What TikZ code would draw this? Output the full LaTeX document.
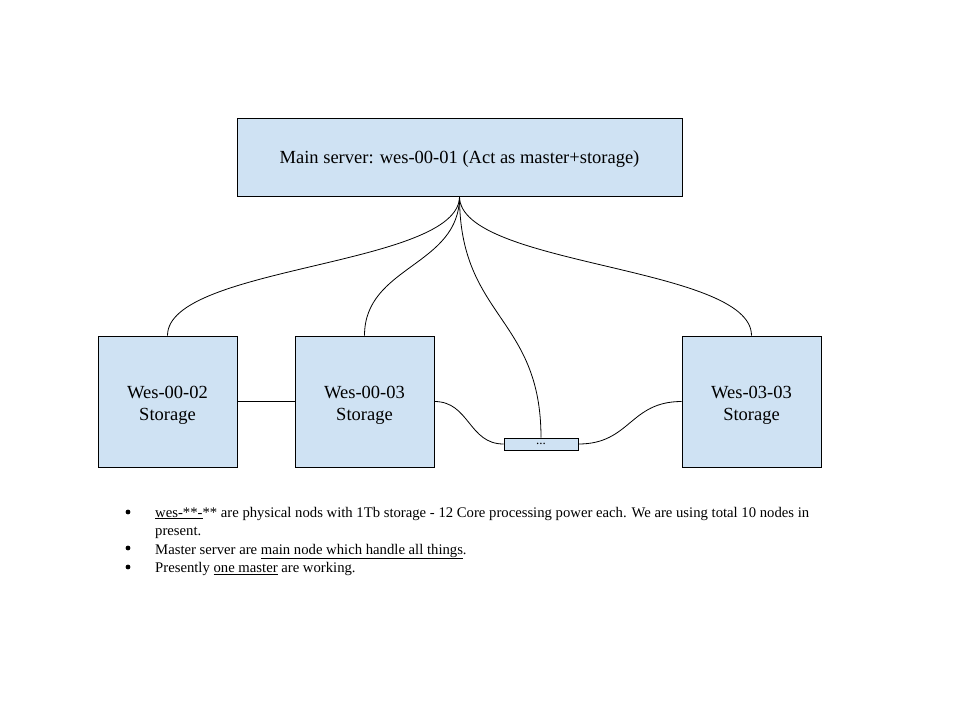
\documentclass[tikz,border=0pt]{standalone}
\usepackage{fontspec}
\setmainfont{Liberation Serif}
\definecolor{boxblue}{HTML}{CFE2F3}
\begin{document}
\begin{tikzpicture}[x=1pt,y=-1pt,
  srv/.style={draw=black,fill=boxblue,line width=0.9pt,inner sep=0pt},
  lbl/.style={align=center,inner sep=0pt,font=\fontsize{18.5}{22}\selectfont},
  link/.style={draw=black,line width=0.8pt},
  bul/.style={anchor=base west,inner sep=0pt,font=\fontsize{14.7}{17}\selectfont}]
\useasboundingbox (0,0) rectangle (960,720);
\node[srv,minimum width=445pt,minimum height=78pt] (main) at (459.5,157) {};
\node[lbl] (mainl) at (459.5,159) {Main server: wes-00-01 (Act as master+storage)};
\node[srv,minimum width=139pt,minimum height=131pt] (w1) at (167.5,401.5) {};
\node[srv,minimum width=139pt,minimum height=131pt] (w2) at (364.5,401.5) {};
\node[srv,minimum width=139pt,minimum height=131pt] (w3) at (751.5,401.5) {};
\node[lbl] (w1l) at (167.5,405.5) {Wes-00-02\\Storage};
\node[lbl] (w2l) at (364.5,405.5) {Wes-00-03\\Storage};
\node[lbl] (w3l) at (751.5,405.5) {Wes-03-03\\Storage};
\node[srv,minimum width=74pt,minimum height=12pt] (dots) at (541,444) {};
\draw[link] (main.south) .. controls +(0,70) and +(0,-70) .. (w1.north);
\draw[link] (main.south) .. controls +(0,70) and +(0,-70) .. (w2.north);
\draw[link] (main.south) .. controls +(0,70) and +(0,-70) .. (w3.north);
\draw[link] (main.south) .. controls +(0,121) and +(0,-121) .. (dots.north);
\draw[link] (w1.east) -- (w2.west);
\draw[link] (w2.east) .. controls +(35,0) and +(-35,0) .. (dots.west);
\draw[link] (dots.east) .. controls +(52,0) and +(-52,0) .. (w3.west);
\node[inner sep=0pt,font=\fontsize{13}{13}\selectfont] (dotsl) at (541,444) {...};
\fill (128,512) circle (2.4pt) coordinate (b1);
\fill (128,548) circle (2.4pt) coordinate (b2);
\fill (128,567) circle (2.4pt) coordinate (b3);
\node[bul] (t1) at (155,517) {\underline{wes-**-}** are physical nods with 1Tb storage - 12 Core processing power each. We are using total 10 nodes in};
\node[bul] (t2) at (155,535.5) {present.};
\node[bul] (t3) at (155,554) {Master server are \underline{main node which handle all things}.};
\node[bul] (t4) at (155,572.5) {Presently \underline{one master} are working.};
\end{tikzpicture}
\end{document}
